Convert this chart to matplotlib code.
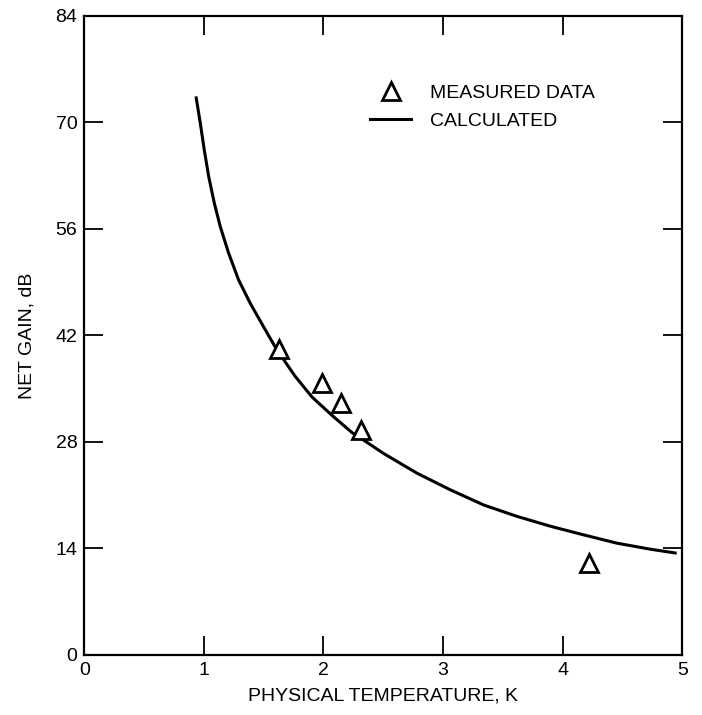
import matplotlib.pyplot as plt

# measured points
temp_measured = [1.63, 1.99, 2.15, 2.31, 4.22]
gain_measured = [40.2, 35.7, 33.1, 29.6, 12.1]

# calculated curve, points
temp_calc = [0.936, 0.97, 1.003, 1.04, 1.087, 1.137, 1.207, 1.29, 1.388, 1.50,
             1.61, 1.764, 1.904, 2.07, 2.24, 2.31, 2.50, 2.78, 3.06, 3.34,
             3.62, 3.90, 4.17, 4.45, 4.73, 4.94]
gain_calc = [73.2, 69.9, 66.4, 62.9, 59.4, 56.3, 52.8, 49.3, 46.2, 43.1,
             40.1, 36.6, 33.9, 31.5, 29.2, 28.5, 26.5, 23.9, 21.7, 19.7,
             18.2, 16.9, 15.8, 14.7, 13.9, 13.4]

xticks = [0, 1, 2, 3, 4, 5]
yticks = [0, 14, 28, 42, 56, 70, 84]

plt.rcParams['font.family'] = ['Liberation Sans', 'DejaVu Sans']

fig = plt.figure(figsize=(7.02, 7.15), dpi=100)
ax = fig.add_axes([0.12, 0.084, 0.852, 0.894])

ax.plot(temp_calc, gain_calc, color='black', linewidth=2.2, label='CALCULATED',
        solid_joinstyle='round')
ax.plot(temp_measured, gain_measured, linestyle='none', marker='^', markersize=13,
        markerfacecolor='white', markeredgecolor='black', markeredgewidth=2,
        label='MEASURED DATA')

ax.set_xlim(0, 5)
ax.set_ylim(0, 84)
ax.set_xticks(xticks)
ax.set_yticks(yticks)
ax.tick_params(direction='in', length=14, width=1.3, labelsize=14, pad=5,
               top=True, right=True)
for s in ax.spines.values():
    s.set_linewidth(1.6)

ax.set_xlabel('PHYSICAL TEMPERATURE, K', fontsize=14, labelpad=6)
ax.set_ylabel('NET GAIN, dB', fontsize=14, labelpad=14)

h, l = ax.get_legend_handles_labels()
ax.legend(h[::-1], l[::-1], loc='upper left', bbox_to_anchor=(0.478, 0.893),
          frameon=False, fontsize=14, handlelength=2.1, handletextpad=1.0,
          labelspacing=0.55, borderpad=0, borderaxespad=0)

fig.savefig('out.png', dpi=100)
